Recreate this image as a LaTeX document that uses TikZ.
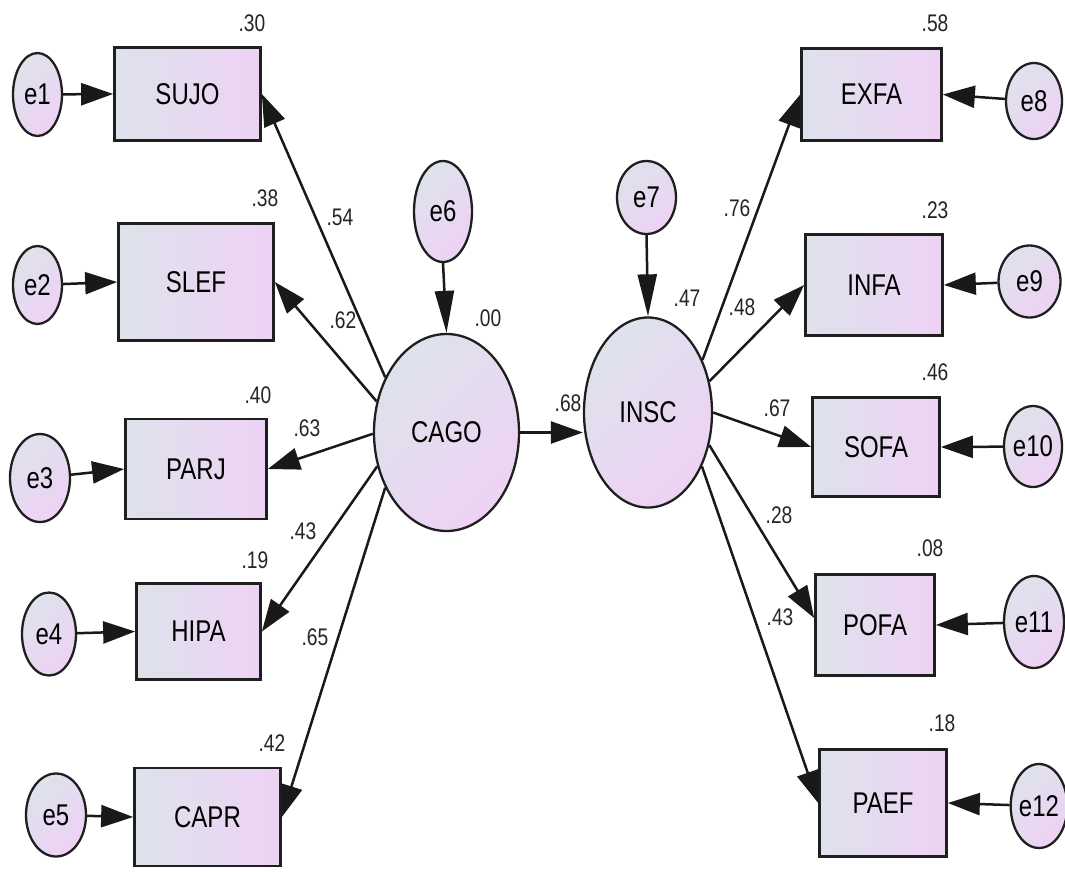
\documentclass[tikz,border=0pt]{standalone}
\usepackage{fontspec}
\newfontfamily\narrowfont[FakeStretch=0.8]{Liberation Sans}
\usetikzlibrary{arrows.meta,calc,shapes.geometric}
\definecolor{cleft}{RGB}{222,226,236}
\definecolor{cright}{RGB}{238,210,244}
\begin{document}
\begin{tikzpicture}[x=1pt,y=-1pt,
  obs/.style={draw=black!88, line width=2.7pt, rectangle, inner sep=0pt,
    left color=cleft, right color=cright,
    font=\narrowfont\fontsize{30}{34}\selectfont},
  lat/.style={draw=black!88, line width=2.3pt, ellipse, inner sep=0pt,
    top color=cleft, bottom color=cright, shading angle=45,
    font=\narrowfont\fontsize{30}{34}\selectfont},
  num/.style={inner sep=0pt, text=black!85,
    font=\narrowfont\fontsize{24}{27}\selectfont},
  arr/.style={line width=2.5pt, draw=black!90, -{Triangle[length=32pt,width=22pt]}},
  varr/.style={line width=2.5pt, draw=black!90, -{Triangle[length=42pt,width=19pt]}}
]
\useasboundingbox[fill=white] (0,0) rectangle (1065,871);

% latent variables
\node[lat, minimum width=145pt, minimum height=197pt] (CAGO) at (446.5,432.5) {CAGO};
\node[lat, minimum width=128pt, minimum height=190pt] (INSC) at (648,412.5) {INSC};

% observed variables (left)
\node[obs, minimum width=146pt, minimum height=93pt]  (SUJO) at (187.5,94) {SUJO};
\node[obs, minimum width=155pt, minimum height=117pt] (SLEF) at (196,282) {SLEF};
\node[obs, minimum width=141pt, minimum height=100pt] (PARJ) at (196,469) {PARJ};
\node[obs, minimum width=124pt, minimum height=96pt]  (HIPA) at (198.5,631.5) {HIPA};
\node[obs, minimum width=146pt, minimum height=98pt]  (CAPR) at (207.5,817) {CAPR};

% observed variables (right)
\node[obs, minimum width=140pt, minimum height=92pt]  (EXFA) at (871.5,94.5) {EXFA};
\node[obs, minimum width=137pt, minimum height=101pt] (INFA) at (874,285) {INFA};
\node[obs, minimum width=127pt, minimum height=99pt]  (SOFA) at (876,447) {SOFA};
\node[obs, minimum width=119pt, minimum height=101pt] (POFA) at (875,625) {POFA};
\node[obs, minimum width=127pt, minimum height=107pt] (PAEF) at (883,803) {PAEF};

% error terms
\node[lat, minimum width=49pt, minimum height=83pt]  (e1) at (37.5,94.5) {e1};
\node[lat, minimum width=49pt, minimum height=78pt]  (e2) at (37.5,285) {e2};
\node[lat, minimum width=60pt, minimum height=88pt]  (e3) at (40,478) {e3};
\node[lat, minimum width=54pt, minimum height=83pt]  (e4) at (49,634) {e4};
\node[lat, minimum width=60pt, minimum height=83pt]  (e5) at (56,815) {e5};
\node[lat, minimum width=58pt, minimum height=101pt] (e6) at (443,211.5) {e6};
\node[lat, minimum width=59pt, minimum height=73pt]  (e7) at (646.5,197.5) {e7};
\node[lat, minimum width=56pt, minimum height=76pt]  (e8) at (1034,101) {e8};
\node[lat, minimum width=62pt, minimum height=72pt]  (e9) at (1029.5,281.5) {e9};
\node[lat, minimum width=58pt, minimum height=81pt]  (e10) at (1033,446.5) {e10};
\node[lat, minimum width=60pt, minimum height=92pt]  (e11) at (1034,622) {e11};
\node[lat, minimum width=52pt, minimum height=84pt]  (e12) at (1039,806) {e12};

% error arrows
\draw[arr] (e1) -- (SUJO.west);
\draw[arr] (e2) -- (SLEF.west);
\draw[arr] (e3) -- (PARJ.west);
\draw[arr] (e4) -- (HIPA.west);
\draw[arr] (e5) -- (CAPR.west);
\draw[arr] (e8) -- (EXFA.east);
\draw[arr] (e9) -- (INFA.east);
\draw[arr] (e10) -- (SOFA.east);
\draw[arr] (e11) -- (POFA.east);
\draw[arr] (e12) -- (PAEF.east);
\draw[varr] (e6.south) -- (CAGO.north);
\draw[varr] (e7.south) -- (INSC.north);

% loadings
\draw[arr] (CAGO.138) -- (SUJO.east);
\draw[arr] (CAGO.156) -- (SLEF.east);
\draw[arr] (CAGO.181) -- (PARJ.east);
\draw[arr] (CAGO.206) -- (HIPA.east);
\draw[arr] (CAGO.222) -- (CAPR.east);
\draw[arr] (CAGO.east) -- (CAGO.east -| INSC.west);
\draw[arr] (INSC.44) -- (EXFA.west);
\draw[arr] (INSC.27) -- (INFA.west);
\draw[arr] (INSC.0) -- (SOFA.west);
\draw[arr] (INSC.-28) -- ($(POFA.west)+(0,-7)$);
\draw[arr] (INSC.-45) -- (PAEF.west);

% squared multiple correlations
\node[num] (r1) at (252,23) {.30};
\node[num] (r2) at (265,198) {.38};
\node[num] (r3) at (258,395) {.40};
\node[num] (r4) at (255,560) {.19};
\node[num] (r5) at (272,743) {.42};
\node[num] (r6) at (935,23) {.58};
\node[num] (r7) at (935,210) {.23};
\node[num] (r8) at (935,372) {.46};
\node[num] (r9) at (930,548) {.08};
\node[num] (r10) at (942,723) {.18};
\node[num] (r11) at (488,318) {.00};
\node[num] (r12) at (687,298) {.47};

% path coefficients
\node[num] (p1) at (340,217) {.54};
\node[num] (p2) at (343,320) {.62};
\node[num] (p3) at (307,428) {.63};
\node[num] (p4) at (303,531) {.43};
\node[num] (p5) at (315,637) {.65};
\node[num] (p6) at (568,403) {.68};
\node[num] (p7) at (737,208) {.76};
\node[num] (p8) at (742,307) {.48};
\node[num] (p9) at (777,408) {.67};
\node[num] (p10) at (779,515) {.28};
\node[num] (p11) at (780,617) {.43};
\end{tikzpicture}
\end{document}
